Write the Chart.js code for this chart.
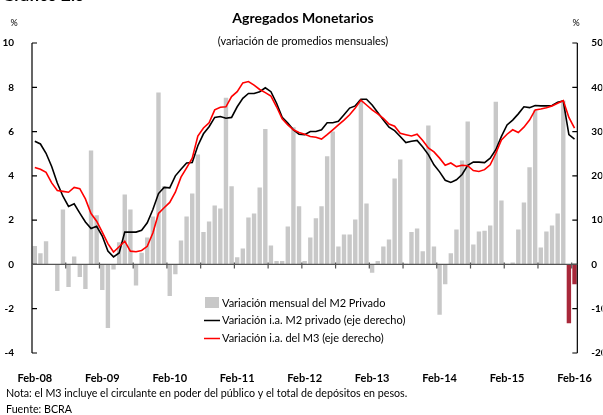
<!DOCTYPE html>
<html>
<head>
<meta charset="utf-8">
<script src="https://cdn.jsdelivr.net/npm/chart.js@4.4.1/dist/chart.umd.min.js"></script>
<style>
  html, body { margin: 0; padding: 0; background: #fff; }
  #wrap { width: 603px; height: 415px; }
</style>
</head>
<body>
<div id="wrap"><canvas id="graphCanvas" width="603" height="415"></canvas></div>
<script>
// meses desde Feb-08 hasta Feb-16
var meses = ["Ene", "Feb", "Mar", "Abr", "May", "Jun", "Jul", "Ago", "Sep", "Oct", "Nov", "Dic"];
var primerAnio = 8;
var primerMes = 1;
var cantMeses = 97;

// variación mensual del M2 privado (%, eje izquierdo)
var m2Mensual = [
  0.83, 0.5, 1.05, 0, -1.2, 2.48, -1.02, 0.36, -0.57, -1.11, 5.15, 2.22, -1.16, -2.87, -0.23, 1.0,
  3.16, 2.48, -0.95, 0.53, 1.22, 2.17, 7.77, 3.53, -1.43, -0.44, 1.08, 2.17, 3.2, 4.96, 1.46, 1.94,
  2.66, 2.53, 7.53, 3.53, 0.32, 0.72, 2.12, 2.3, 3.47, 6.12, 0.86, 0.15, 0.15, 1.71, 6.2, 2.63,
  0.15, 1.22, 2.08, 2.63, 4.89, 6.0, 0.81, 1.35, 1.35, 2.03, 7.44, 2.75, -0.38, 0.15, 0.81, 1.13,
  3.88, 4.74, 0.03, 1.46, 1.62, 0.6, 6.27, 0.81, -2.27, -0.89, 0.5, 1.58, 4.69, 6.45, 0.9, 1.49,
  1.52, 1.76, 7.35, 2.89, 0.03, 0.09, 1.58, 2.8, 4.39, 6.96, 0.77, 1.49, 1.76, 2.3, 7.4, -2.66, -0.89
];

// variación i.a. M2 privado (%, eje derecho)
var m2Anual = [
  27.8, 27.2, 25.1, 22.1, 18.4, 15.4, 13.1, 13.7, 11.6, 9.6, 8.1, 8.6, 6.4, 3.0, 1.7, 2.6,
  7.3, 7.3, 7.3, 7.7, 9.4, 12.4, 16.0, 17.4, 17.3, 20.0, 21.5, 22.9, 23.0, 26.8, 29.5, 31.1,
  33.2, 33.4, 33.0, 33.2, 35.6, 37.5, 38.6, 38.6, 39.0, 39.9, 39.0, 36.4, 33.2, 31.9, 30.4, 29.4,
  29.3, 30.0, 30.0, 30.4, 32.0, 32.0, 32.3, 33.8, 35.3, 35.8, 37.3, 37.3, 36.0, 34.3, 32.6, 31.0,
  30.2, 28.9, 27.5, 27.8, 28.0, 26.5, 24.8, 22.5, 20.9, 19.0, 18.5, 19.1, 20.3, 22.4, 23.1, 23.1,
  23.0, 24.0, 25.9, 28.9, 31.5, 32.6, 34.0, 35.6, 35.4, 35.9, 35.8, 35.8, 35.9, 36.6, 36.9, 29.3, 28.3
];

// variación i.a. del M3 (%, eje derecho)
var m3Anual = [
  21.9, 21.5, 20.8, 18.4, 16.7, 16.5, 16.3, 17.4, 17.1, 14.8, 11.5, 9.75, 7.3, 4.7, 2.8, 4.0,
  5.25, 3.0, 2.85, 3.15, 4.1, 7.1, 11.5, 12.8, 14.0, 16.3, 19.7, 21.8, 24.0, 29.0, 30.8, 32.0,
  34.9, 35.5, 35.6, 37.9, 39.0, 41.0, 41.3, 40.5, 39.5, 38.8, 38.0, 35.6, 32.9, 31.5, 30.4, 29.8,
  29.4, 28.9, 28.7, 28.3, 29.3, 30.4, 31.5, 32.6, 33.8, 35.3, 37.1, 36.0, 34.9, 34.0, 33.0, 31.7,
  31.2, 29.6, 29.3, 29.0, 29.4, 28.0, 26.3, 25.4, 24.0, 22.4, 22.9, 22.1, 22.4, 22.3, 21.2, 21.0,
  21.4, 22.5, 25.1, 28.1, 29.4, 30.4, 29.8, 31.0, 32.6, 34.9, 35.1, 35.4, 35.8, 36.4, 37.0, 33.2, 30.8
];

var ticksIzq = [-4, -2, 0, 2, 4, 6, 8, 10];
var ticksDer = [-20, -10, 0, 10, 20, 30, 40, 50];
var mesesDestacados = 2; // últimos meses en rojo oscuro

var FUENTE = "Lato, 'Open Sans', sans-serif";

var labels = [];
for (var i = 0; i < cantMeses; i++) {
  var m = (primerMes + i) % 12;
  var a = primerAnio + Math.floor((primerMes + i) / 12);
  labels.push(meses[m] + "-" + (a < 10 ? "0" + a : a));
}

var coloresBarras = m2Mensual.map(function (v, i) {
  return i >= cantMeses - mesesDestacados ? "#a8283a" : "#c8c8c8";
});

var textos = {
  id: "textos",
  afterDraw: function (chart) {
    var ctx = chart.ctx;
    var area = chart.chartArea;
    var y = chart.scales.y;
    var y1 = chart.scales.y1;
    var x = chart.scales.x;
    ctx.save();

    // ejes verticales
    ctx.strokeStyle = "#000";
    ctx.lineWidth = 1.2;
    ctx.beginPath();
    ctx.moveTo(area.left, area.top);
    ctx.lineTo(area.left, area.bottom);
    ctx.moveTo(area.right, area.top);
    ctx.lineTo(area.right, area.bottom);
    ticksIzq.forEach(function (t) {
      var py = y.getPixelForValue(t);
      ctx.moveTo(area.left, py);
      ctx.lineTo(area.left + 5, py);
    });
    ticksDer.forEach(function (t) {
      var py = y1.getPixelForValue(t);
      ctx.moveTo(area.right, py);
      ctx.lineTo(area.right - 5, py);
    });
    ctx.stroke();

    // línea de cero con marcas semestrales
    var y0 = y.getPixelForValue(0);
    ctx.strokeStyle = "#555";
    ctx.lineWidth = 1.2;
    ctx.beginPath();
    ctx.moveTo(area.left, y0);
    ctx.lineTo(area.right, y0);
    for (var i = 5; i < cantMeses - 1; i += 6) {
      var px = (x.getPixelForValue(i) + x.getPixelForValue(i + 1)) / 2;
      ctx.moveTo(px, y0 - 2);
      ctx.lineTo(px, y0 + 4);
    }
    ctx.stroke();

    // títulos
    ctx.fillStyle = "#000";
    ctx.textAlign = "left";
    ctx.font = "bold 17px " + FUENTE;
    ctx.fillText("Gráfico 2.5", 2, 1);
    ctx.textAlign = "center";
    ctx.font = "bold 14px " + FUENTE;
    ctx.fillText("Agregados Monetarios", 303, 23);
    ctx.font = "11px " + FUENTE;
    ctx.fillText("(variación de promedios mensuales)", 303, 45);
    ctx.font = "9px " + FUENTE;
    ctx.fillText("%", 14, 26);
    ctx.fillText("%", 576, 26);

    // leyenda
    ctx.textAlign = "left";
    ctx.textBaseline = "middle";
    ctx.font = "11px " + FUENTE;
    ctx.fillStyle = "#c8c8c8";
    ctx.fillRect(205, 297, 14, 11);
    ctx.lineWidth = 1.5;
    ctx.strokeStyle = "#000";
    ctx.beginPath();
    ctx.moveTo(204, 320.5);
    ctx.lineTo(220, 320.5);
    ctx.stroke();
    ctx.strokeStyle = "#ff0000";
    ctx.beginPath();
    ctx.moveTo(204, 338.5);
    ctx.lineTo(220, 338.5);
    ctx.stroke();
    ctx.fillStyle = "#000";
    ctx.fillText("Variación mensual del M2 Privado", 222, 303);
    ctx.fillText("Variación i.a. M2 privado (eje derecho)", 222, 320);
    ctx.fillText("Variación i.a. del M3 (eje derecho)", 222, 338);

    // notas
    ctx.font = "10.7px " + FUENTE;
    ctx.fillText("Nota: el M3 incluye el circulante en poder del público y el total de depósitos en pesos.", 6, 394);
    ctx.fillText("Fuente: BCRA", 6, 410);
    ctx.restore();
  }
};

new Chart(document.getElementById("graphCanvas"), {
  data: {
    labels: labels,
    datasets: [
      {
        type: "line",
        label: "Variación i.a. del M3 (eje derecho)",
        data: m3Anual,
        yAxisID: "y1",
        borderColor: "#ff0000",
        borderWidth: 1.6,
        pointRadius: 0,
        tension: 0,
        order: 0
      },
      {
        type: "line",
        label: "Variación i.a. M2 privado (eje derecho)",
        data: m2Anual,
        yAxisID: "y1",
        borderColor: "#000000",
        borderWidth: 1.6,
        pointRadius: 0,
        tension: 0,
        order: 1
      },
      {
        type: "bar",
        label: "Variación mensual del M2 Privado",
        data: m2Mensual,
        yAxisID: "y",
        backgroundColor: coloresBarras,
        categoryPercentage: 1,
        barPercentage: 0.78,
        order: 2
      }
    ]
  },
  options: {
    responsive: false,
    animation: false,
    events: [],
    layout: { padding: { top: 43, bottom: 27, left: 0, right: 0 } },
    plugins: {
      legend: { display: false },
      tooltip: { enabled: false }
    },
    scales: {
      x: {
        grid: { display: false },
        border: { display: false },
        ticks: {
          autoSkip: false,
          maxRotation: 0,
          padding: 11,
          color: "#000",
          font: { family: FUENTE, size: 11, weight: "bold" },
          callback: function (v, i) {
            return i % 12 === 0 ? labels[i] : "";
          }
        },
        afterFit: function (s) { s.height = 35; }
      },
      y: {
        position: "left",
        min: -4,
        max: 10,
        grid: { display: false },
        border: { display: false },
        ticks: {
          stepSize: 2,
          padding: 10,
          color: "#000",
          font: { family: FUENTE, size: 10, weight: "bold" }
        },
        afterFit: function (s) { s.width = 32; }
      },
      y1: {
        position: "right",
        min: -20,
        max: 50,
        grid: { display: false },
        border: { display: false },
        ticks: {
          stepSize: 10,
          padding: 6,
          color: "#000",
          font: { family: FUENTE, size: 10, weight: "bold" }
        },
        afterFit: function (s) { s.width = 25; }
      }
    }
  },
  plugins: [textos]
});
</script>
</body>
</html>
